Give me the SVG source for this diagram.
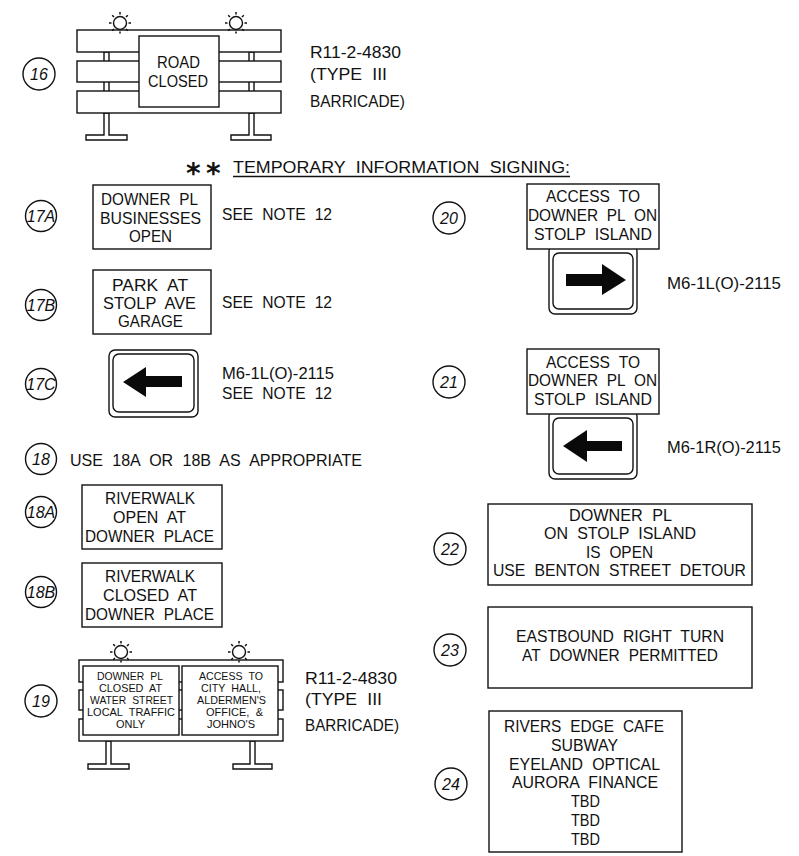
<svg xmlns="http://www.w3.org/2000/svg" width="799" height="856" viewBox="0 0 799 856">
<style>
text{font-family:"Liberation Sans",Arial,sans-serif;fill:#111}
.t{font-size:17px;word-spacing:.3em}
.s{font-size:10.200px;word-spacing:.3em}
.n{font-size:16px;font-style:italic;text-anchor:middle}
.b,.w{fill:#fff;stroke:#111;stroke-width:1.4}
.o{fill:none;stroke:#111;stroke-width:1.4}
.a{fill:#0a0a0a;stroke:none}
.r{stroke:#111;stroke-width:1.5}
</style>
<defs>
<g id="sun">
<circle class="o" r="6.5"/>
<path class="r" d="M0-8.500V-11M6-6L7.800-7.800M8.500 0H11M6 6L7.800 7.800M0 8.500V10.500M-6 6L-7.800 7.800M-8.500 0H-11M-6-6L-7.800-7.800"/>
</g>
</defs>
<rect width="799" height="856" fill="#fff"/>

<g id="node-16">
<circle class="o" cx="39" cy="74" r="16"/><text class="n" x="39" y="80">16</text>
<rect class="w" x="104" y="52" width="5" height="61"/><rect class="w" x="249" y="52" width="5" height="61"/>
<path class="w" d="M104 113V135H86V140H127V135H109V113Z"/>
<path class="w" d="M249 113V135H231V140H271V135H254V113Z"/>
<rect class="w" x="77" y="30" width="204" height="22"/>
<rect class="w" x="77" y="61" width="204" height="21"/>
<rect class="w" x="77" y="91" width="204" height="22"/>
<use href="#sun" x="120" y="23"/><use href="#sun" x="236" y="23"/>
<rect class="w" x="139" y="36" width="80" height="71"/>
<text class="t" x="157" y="68" textLength="43" lengthAdjust="spacingAndGlyphs">ROAD</text>
<text class="t" x="148" y="87" textLength="60" lengthAdjust="spacingAndGlyphs">CLOSED</text>
<text class="t" x="310" y="58" textLength="91" lengthAdjust="spacingAndGlyphs">R11-2-4830</text>
<text class="t" x="310" y="80" textLength="77" lengthAdjust="spacingAndGlyphs">(TYPE III</text>
<text class="t" x="310" y="107" textLength="95" lengthAdjust="spacingAndGlyphs">BARRICADE)</text>
</g>

<g id="heading">
<text x="186 206" y="183" style="font-family:'DejaVu Sans',sans-serif;font-weight:bold;font-size:28px">**</text>
<text class="t" x="233" y="173" textLength="337" lengthAdjust="spacingAndGlyphs">TEMPORARY INFORMATION SIGNING:</text>
<path class="o" d="M233 176.500H570"/>
</g>

<g id="node-17A">
<circle class="o" cx="41" cy="216" r="15.500"/><text class="n" x="41" y="222">17A</text>
<rect class="w" x="93" y="185" width="118" height="64"/>
<text class="t" x="101" y="205" textLength="97" lengthAdjust="spacingAndGlyphs">DOWNER PL</text>
<text class="t" x="100" y="224" textLength="101" lengthAdjust="spacingAndGlyphs">BUSINESSES</text>
<text class="t" x="129" y="242" textLength="43" lengthAdjust="spacingAndGlyphs">OPEN</text>
<text class="t" x="222" y="220" textLength="110" lengthAdjust="spacingAndGlyphs">SEE NOTE 12</text>
</g>

<g id="node-17B">
<circle class="o" cx="41" cy="305" r="15.500"/><text class="n" x="41" y="311">17B</text>
<rect class="w" x="93" y="270" width="118" height="64"/>
<text class="t" x="112" y="291" textLength="76" lengthAdjust="spacingAndGlyphs">PARK AT</text>
<text class="t" x="103" y="309" textLength="93" lengthAdjust="spacingAndGlyphs">STOLP AVE</text>
<text class="t" x="118" y="327" textLength="65" lengthAdjust="spacingAndGlyphs">GARAGE</text>
<text class="t" x="222" y="308" textLength="110" lengthAdjust="spacingAndGlyphs">SEE NOTE 12</text>
</g>

<g id="node-17C">
<circle class="o" cx="41" cy="384" r="15.500"/><text class="n" x="41" y="390">17C</text>
<rect class="w" x="109" y="350" width="89" height="67" rx="6"/>
<rect class="w" x="113" y="354" width="81" height="58" rx="6"/>
<path class="a" d="M123 382L146 367V376H182V387H146V397Z"/>
<text class="t" x="222" y="379" textLength="112" lengthAdjust="spacingAndGlyphs">M6-1L(O)-2115</text>
<text class="t" x="222" y="399" textLength="110" lengthAdjust="spacingAndGlyphs">SEE NOTE 12</text>
</g>

<g id="node-18">
<circle class="o" cx="41" cy="459" r="15.500"/><text class="n" x="41" y="465">18</text>
<text class="t" x="70" y="466" textLength="292" lengthAdjust="spacingAndGlyphs">USE 18A OR 18B AS APPROPRIATE</text>
</g>

<g id="node-18A">
<circle class="o" cx="41" cy="512" r="15.500"/><text class="n" x="41" y="518">18A</text>
<rect class="w" x="82" y="485" width="140" height="64"/>
<text class="t" x="105" y="504" textLength="90" lengthAdjust="spacingAndGlyphs">RIVERWALK</text>
<text class="t" x="113" y="523" textLength="73" lengthAdjust="spacingAndGlyphs">OPEN AT</text>
<text class="t" x="85" y="542" textLength="129" lengthAdjust="spacingAndGlyphs">DOWNER PLACE</text>
</g>

<g id="node-18B">
<circle class="o" cx="41" cy="592" r="15.500"/><text class="n" x="41" y="598">18B</text>
<rect class="w" x="82" y="563" width="140" height="64"/>
<text class="t" x="105" y="582" textLength="90" lengthAdjust="spacingAndGlyphs">RIVERWALK</text>
<text class="t" x="103" y="601" textLength="94" lengthAdjust="spacingAndGlyphs">CLOSED AT</text>
<text class="t" x="85" y="620" textLength="129" lengthAdjust="spacingAndGlyphs">DOWNER PLACE</text>
</g>

<g id="node-19">
<circle class="o" cx="41" cy="701" r="16"/><text class="n" x="41" y="707">19</text>
<path class="w" d="M106 741V764H88V769H129V764H111V741Z"/>
<path class="w" d="M250 741V764H233V769H272V764H255V741Z"/>
<rect class="w" x="79" y="660" width="204" height="22"/>
<rect class="w" x="79" y="690" width="204" height="20"/>
<rect class="w" x="79" y="719" width="204" height="22"/>
<use href="#sun" x="121" y="652"/><use href="#sun" x="239" y="652"/>
<rect class="w" x="83" y="666" width="96" height="69"/>
<rect class="w" x="182" y="666" width="96" height="69"/>
<text class="s" x="97" y="680" textLength="66" lengthAdjust="spacingAndGlyphs">DOWNER PL</text>
<text class="s" x="99" y="692" textLength="63" lengthAdjust="spacingAndGlyphs">CLOSED AT</text>
<text class="s" x="90" y="704" textLength="83" lengthAdjust="spacingAndGlyphs">WATER STREET</text>
<text class="s" x="87" y="716" textLength="88" lengthAdjust="spacingAndGlyphs">LOCAL TRAFFIC</text>
<text class="s" x="116" y="728" textLength="29" lengthAdjust="spacingAndGlyphs">ONLY</text>
<text class="s" x="199" y="680" textLength="64" lengthAdjust="spacingAndGlyphs">ACCESS TO</text>
<text class="s" x="201" y="692" textLength="60" lengthAdjust="spacingAndGlyphs">CITY HALL,</text>
<text class="s" x="197" y="704" textLength="69" lengthAdjust="spacingAndGlyphs">ALDERMEN'S</text>
<text class="s" x="206" y="716" textLength="57" lengthAdjust="spacingAndGlyphs">OFFICE, &amp;</text>
<text class="s" x="207" y="728" textLength="48" lengthAdjust="spacingAndGlyphs">JOHNO'S</text>
<text class="t" x="305" y="684" textLength="92" lengthAdjust="spacingAndGlyphs">R11-2-4830</text>
<text class="t" x="305" y="705" textLength="77" lengthAdjust="spacingAndGlyphs">(TYPE III</text>
<text class="t" x="305" y="731" textLength="94" lengthAdjust="spacingAndGlyphs">BARRICADE)</text>
</g>

<g id="node-20">
<circle class="o" cx="449" cy="218" r="16"/><text class="n" x="449" y="224">20</text>
<rect class="w" x="549" y="245" width="88" height="69" rx="6"/>
<rect class="w" x="553" y="253" width="80" height="56" rx="6"/>
<rect class="w" x="527" y="184" width="132" height="65"/>
<path class="a" d="M566 274H602V264L626 280L602 295V286H566Z"/>
<text class="t" x="546" y="202" textLength="94" lengthAdjust="spacingAndGlyphs">ACCESS TO</text>
<text class="t" x="528" y="221" textLength="129" lengthAdjust="spacingAndGlyphs">DOWNER PL ON</text>
<text class="t" x="534" y="240" textLength="118" lengthAdjust="spacingAndGlyphs">STOLP ISLAND</text>
<text class="t" x="667" y="289" textLength="114" lengthAdjust="spacingAndGlyphs">M6-1L(O)-2115</text>
</g>

<g id="node-21">
<circle class="o" cx="449" cy="382" r="16"/><text class="n" x="449" y="388">21</text>
<rect class="w" x="549" y="410" width="88" height="69" rx="6"/>
<rect class="w" x="553" y="418" width="80" height="56" rx="6"/>
<rect class="w" x="527" y="349" width="132" height="65"/>
<path class="a" d="M563 446L587 430V441H622V451H587V462Z"/>
<text class="t" x="546" y="368" textLength="94" lengthAdjust="spacingAndGlyphs">ACCESS TO</text>
<text class="t" x="528" y="386" textLength="129" lengthAdjust="spacingAndGlyphs">DOWNER PL ON</text>
<text class="t" x="534" y="405" textLength="118" lengthAdjust="spacingAndGlyphs">STOLP ISLAND</text>
<text class="t" x="667" y="453" textLength="114" lengthAdjust="spacingAndGlyphs">M6-1R(O)-2115</text>
</g>

<g id="node-22">
<circle class="o" cx="450" cy="549" r="16"/><text class="n" x="450" y="555">22</text>
<rect class="w" x="488" y="504" width="264" height="81"/>
<text class="t" x="569" y="521" textLength="103" lengthAdjust="spacingAndGlyphs">DOWNER PL</text>
<text class="t" x="544" y="539" textLength="152" lengthAdjust="spacingAndGlyphs">ON STOLP ISLAND</text>
<text class="t" x="586" y="558" textLength="67" lengthAdjust="spacingAndGlyphs">IS OPEN</text>
<text class="t" x="493" y="576" textLength="253" lengthAdjust="spacingAndGlyphs">USE BENTON STREET DETOUR</text>
</g>

<g id="node-23">
<circle class="o" cx="450" cy="650" r="16"/><text class="n" x="450" y="656">23</text>
<rect class="w" x="488" y="607" width="264" height="81"/>
<text class="t" x="516" y="642" textLength="208" lengthAdjust="spacingAndGlyphs">EASTBOUND RIGHT TURN</text>
<text class="t" x="522" y="661" textLength="196" lengthAdjust="spacingAndGlyphs">AT DOWNER PERMITTED</text>
</g>

<g id="node-24">
<circle class="o" cx="451" cy="784" r="16"/><text class="n" x="451" y="790">24</text>
<rect class="w" x="489" y="711" width="193" height="141"/>
<text class="t" x="504" y="732" textLength="160" lengthAdjust="spacingAndGlyphs">RIVERS EDGE CAFE</text>
<text class="t" x="551" y="751" textLength="67" lengthAdjust="spacingAndGlyphs">SUBWAY</text>
<text class="t" x="509" y="770" textLength="151" lengthAdjust="spacingAndGlyphs">EYELAND OPTICAL</text>
<text class="t" x="512" y="788" textLength="146" lengthAdjust="spacingAndGlyphs">AURORA FINANCE</text>
<text class="t" x="571" y="807" textLength="29" lengthAdjust="spacingAndGlyphs">TBD</text>
<text class="t" x="571" y="826" textLength="29" lengthAdjust="spacingAndGlyphs">TBD</text>
<text class="t" x="571" y="845" textLength="29" lengthAdjust="spacingAndGlyphs">TBD</text>
</g>
</svg>
